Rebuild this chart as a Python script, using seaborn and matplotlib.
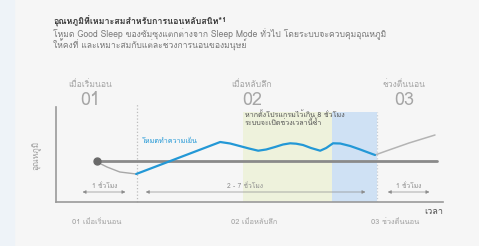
import matplotlib
matplotlib.use('Agg')
import matplotlib.pyplot as plt
import seaborn as sns
from matplotlib import font_manager
from matplotlib.ft2font import FT2Font

# time in hours from going to bed, temperature relative to the set point
arc_time = [0, 0.1, 0.25, 0.57, 0.98]
arc_temp = [0, -0.35, -0.65, -1.15, -1.35]

cool_time = [0.98, 3.08, 3.33, 3.8, 4.03, 4.23, 4.45, 4.65, 4.83, 4.98, 5.15, 5.35, 5.58, 5.73, 5.9, 6.08, 6.33, 6.58, 6.78, 6.95]
cool_temp = [-1.35, 1.85, 1.7, 1.2, 0.98, 1.1, 1.35, 1.6, 1.72, 1.68, 1.55, 1.25, 0.98, 1.25, 1.72, 1.7, 1.45, 1.1, 0.8, 0.55]

wake_time = [6.95, 7.3, 7.8, 8.45]
wake_temp = [0.55, 1.05, 1.75, 2.55]

set_time = [0, 8.5]
set_temp = [0, 0]

phase_edges = [1, 7]          # dotted lines between phases
repeat_span = [3.65, 5.88]    # light yellow zone
repeat_last = [5.88, 7.0]     # light blue zone

phase_names = ['เมื่อเริ่มนอน', 'เมื่อหลับลึก', 'ช่วงตื่นนอน']
phase_nums = ['01', '02', '03']
span_labels = ['1 ชั่วโมง', '2 - 7 ชั่วโมง', '1 ชั่วโมง']
span_ranges = [(-0.43, 0.78), (1.15, 6.78), (7.2, 8.38)]
span_label_x = [0.18, 3.7, 7.8]

title = 'อุณหภูมิที่เหมาะสมสำหรับการนอนหลับสนิท*¹'
subtitle = ['โหมด Good Sleep ของซัมซุงแตกต่างจาก Sleep Mode ทั่วไป โดยระบบจะควบคุมอุณหภูมิ',
            'ให้คงที่ และเหมาะสมกับแต่ละช่วงการนอนของมนุษย์']


def thai_family():
    for f in font_manager.fontManager.ttflist:
        try:
            if FT2Font(f.fname).get_char_index(ord('ก')):
                return f.name
        except Exception:
            pass
    return None


sns.set_style('white')
fam = thai_family()
plt.rcParams['font.family'] = [fam, 'DejaVu Sans'] if fam else ['DejaVu Sans']

W, H = 479, 246
fig = plt.figure(figsize=(W / 100, H / 100), dpi=100, facecolor='#f6f6f6')


def fx(px):
    return px / W


def fy(py):
    return 1 - py / H


# faint strip on the left edge
fig.patches.append(plt.Rectangle((0, 0), fx(14), 1, transform=fig.transFigure,
                                 color='#eef3f8', zorder=0))

ax = fig.add_axes([fx(56), fy(202), fx(443 - 56), (202 - 107) / H])
ax.set_facecolor('none')
ax.set_xlim(-1.025, 8.65)
ax.set_ylim(-4.15, 5.35)
ylo, yhi = ax.get_ylim()
band_top = (4.85 - ylo) / (yhi - ylo)

ax.axvspan(*repeat_span, ymax=band_top, color='#eef2dc', lw=0, zorder=0)
ax.axvspan(*repeat_last, ymax=band_top, color='#cfe1f4', lw=0, zorder=0)

ax.plot([phase_edges[0]] * 2, [ylo, 5.75], ls=':', color='#bdbdbd', lw=0.9, clip_on=False, zorder=1)
ax.plot([phase_edges[1]] * 2, [ylo, 4.85], ls=':', color='#c6cdd6', lw=0.9, zorder=1)

sns.lineplot(x=set_time, y=set_temp, ax=ax, color='#8a8a8a', lw=2.0, zorder=2)
sns.lineplot(x=arc_time, y=arc_temp, ax=ax, color='#a8a8a8', lw=1.0, sort=False, zorder=3)
sns.lineplot(x=wake_time, y=wake_temp, ax=ax, color='#b4b4b4', lw=1.1, sort=False, zorder=3)
sns.lineplot(x=cool_time, y=cool_temp, ax=ax, color='#2398d6', lw=1.6, sort=False, zorder=4)
ax.plot(set_time[0], set_temp[0], 'o', color='#6a6a6a', ms=5, zorder=5)

for (a, b), lab, lx in zip(span_ranges, span_labels, span_label_x):
    ax.annotate('', xy=(b, -3.15), xytext=(a, -3.15),
                arrowprops=dict(arrowstyle='<|-|>', color='#8c8c8c', lw=0.5, mutation_scale=5))
    ax.text(lx, -2.55, lab, fontsize=4.8, color='#8c8c8c', ha='center', va='center')

ax.text(1.125, 1.95, 'โหมดทำความเย็น', fontsize=5.2, color='#2398d6', ha='left', va='center')
ax.text(3.7, 4.15, 'หากตั้งโปรแกรมไว้เกิน 8 ชั่วโมง\nระบบจะเปิดช่วงเวลานี้ซ้ำ', fontsize=5.2,
        color='#555555', ha='left', va='center', linespacing=1.0)

ax.set_xticks([])
ax.set_yticks([])
for s in ['top', 'right']:
    ax.spines[s].set_visible(False)
for s in ['left', 'bottom']:
    ax.spines[s].set_color('#9a9a9a')
    ax.spines[s].set_linewidth(1.2)

# header texts
fig.text(fx(53), fy(21), title, fontsize=6.4, fontweight='bold', color='#3a3a3a', va='center')
for py, line in zip([34, 45], subtitle):
    fig.text(fx(53), fy(py), line, fontsize=6.2, color='#7a7a7a', va='center')

for cx, name, num in zip([90, 252, 404], phase_names, phase_nums):
    fig.text(fx(cx), fy(84), name, fontsize=6.2, color='#a6a6a6', ha='center', va='center')
    fig.text(fx(cx), fy(100), num, fontsize=13, color='#a6a6a6', ha='center', va='center')

for cx, name, num in zip([97, 254, 395], phase_names, phase_nums):
    fig.text(fx(cx), fy(222), num + ' ' + name, fontsize=5.4, color='#a0a0a0', ha='center', va='center')

fig.text(fx(37), fy(155), 'อุณหภูมิ', fontsize=6, color='#a0a0a0', rotation=90, ha='center', va='center')
fig.text(fx(443), fy(211), 'เวลา', fontsize=6.6, color='#555555', ha='right', va='center')

fig.savefig('out.png', dpi=100, facecolor=fig.get_facecolor())
